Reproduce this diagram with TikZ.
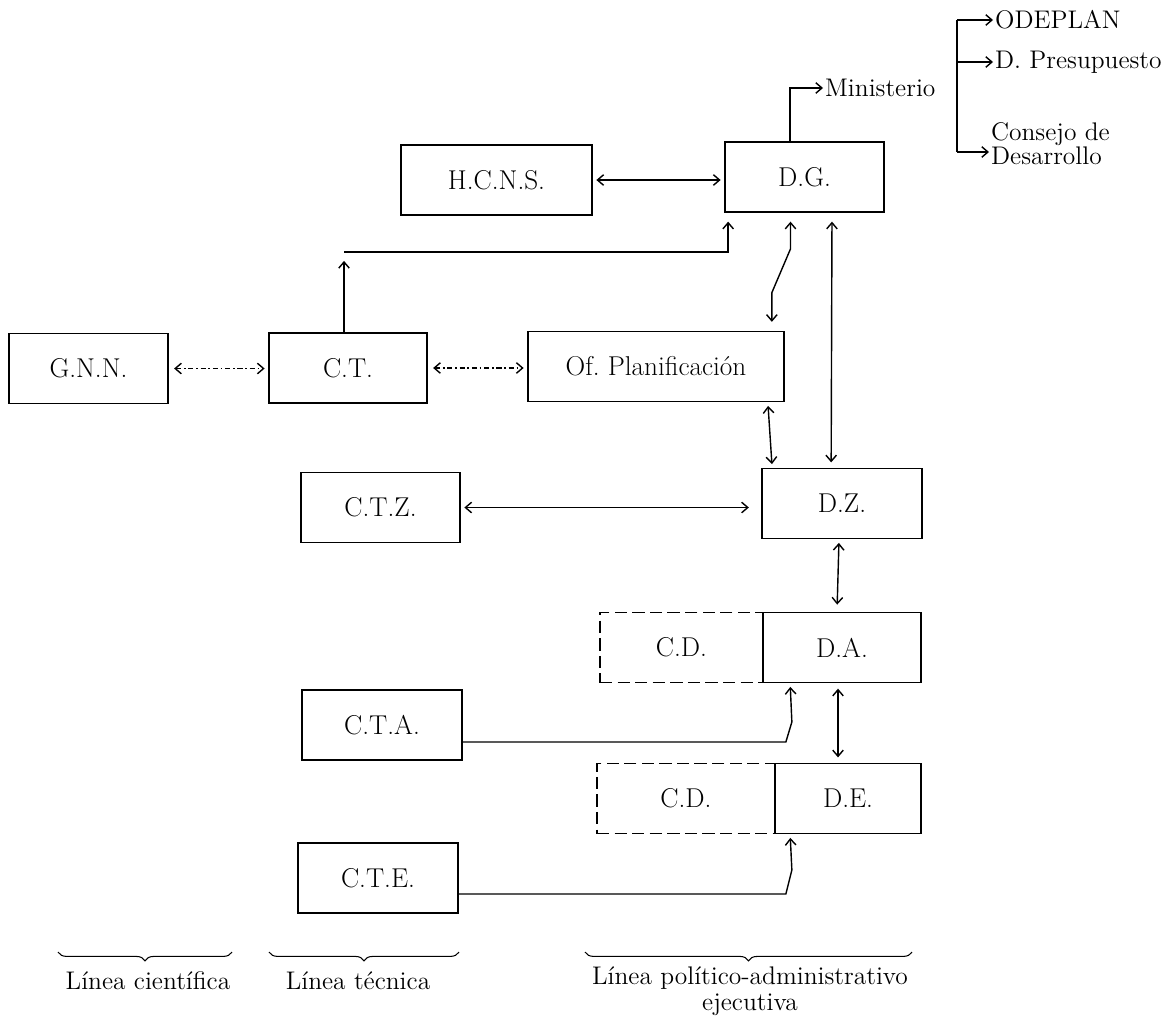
\documentclass[tikz,border=0pt]{standalone}
\usepackage{tikz}
\usetikzlibrary{calc,arrows.meta,decorations.pathreplacing}

\begin{document}
\begin{tikzpicture}[x=0.02cm,y=-0.02cm,>={Straight Barb[length=3.5pt,width=6pt]},
	font=\fontsize{15.5}{17}\selectfont,
	caja/.style={draw,line width=1pt,inner sep=0pt,minimum height=1.4cm},
	cajarayada/.style={caja,dash pattern=on 7pt off 3pt},
	etiqueta/.style={inner sep=1pt,font=\fontsize{14.5}{16}\selectfont},
	linea/.style={font=\fontsize{14.5}{15}\selectfont},
	flecha/.style={line width=0.8pt},
	rayado/.style={flecha,dash pattern=on 3pt off 1.5pt on 1pt off 1.5pt},
	llave/.style={decorate,decoration={brace,mirror,amplitude=5pt},line width=0.6pt}]
	\useasboundingbox (0,0) rectangle (1165,1015);
	%
	\node[caja,minimum width=3.82cm] (hcns) at (496.5,180) {H.C.N.S.};
	\node[caja,minimum width=3.18cm] (dg) at (804.5,177) {D.G.};
	\node[caja,minimum width=3.18cm] (gnn) at (88.5,368.5) {G.N.N.};
	\node[caja,minimum width=3.16cm] (ct) at (348,368) {C.T.};
	\node[caja,minimum width=5.12cm] (ofp) at (656,366.5) {Of.\ Planificación};
	\node[caja,minimum width=3.18cm] (ctz) at (380.5,507.5) {C.T.Z.};
	\node[caja,minimum width=3.2cm] (dz) at (842,503.5) {D.Z.};
	\node[cajarayada,minimum width=3.26cm] (cd1) at (681.5,647.5) {C.D.};
	\node[caja,minimum width=3.16cm] (da) at (842,647.5) {D.A.};
	\node[caja,minimum width=3.2cm] (cta) at (382,725) {C.T.A.};
	\node[cajarayada,minimum width=3.56cm] (cd2) at (686,798.5) {C.D.};
	\node[caja,minimum width=2.92cm] (de) at (848,798.5) {D.E.};
	\node[caja,minimum width=3.2cm] (cte) at (378,878) {C.T.E.};
	%
	\node[etiqueta,anchor=west] (min) at (823,88) {Ministerio};
	\coordinate (barra) at (957,18);
	\node[etiqueta,anchor=west] (odeplan) at (993,20) {ODEPLAN};
	\node[etiqueta,anchor=west] (dpres) at (993,62) {D.\ Presupuesto};
	\node[etiqueta,anchor=west,align=left,font=\fontsize{14.5}{13.5}\selectfont] (consejo) at (989,144) {Consejo de\\Desarrollo};
	%
	\draw[flecha,->] ($(dg.north)+(-14.5,0)$) |- (min.west);
	\draw[flecha] (odeplan.west -| barra) -- ($(consejo.west -| barra)+(0,8)$);
	\draw[flecha,->] (odeplan.west -| barra) -- (odeplan.west);
	\draw[flecha,->] (dpres.west -| barra) -- (dpres.west);
	\draw[flecha,->] ($(consejo.west -| barra)+(0,8)$) -- ($(consejo.west)+(0,8)$);
	%
	\draw[flecha,<->,shorten <=2pt,shorten >=2pt] (hcns.east) -- (hcns.east -| dg.west);
	\coordinate (codo) at ($(ct.north)+(-4,-80)$);
	\draw[flecha,->,shorten >=5pt] (ct.north -| codo) -- (codo);
	\draw[flecha,->,shorten >=5pt] (codo) -| ($(dg.south west)+(4,0)$);
	\draw[flecha,<->,shorten <=5pt,shorten >=5pt] ($(dg.south)+(-14,0)$) -- ++(0,36)
		-- ($(ofp.north east)+(-13,-38)$) -- ($(ofp.north east)+(-13,0)$);
	\draw[flecha,<->,shorten <=5pt,shorten >=3pt] ($(dg.south)+(27.5,0)$) -- ($(dz.north west)+(70,0)$);
	\draw[flecha,<->,shorten <=2pt,shorten >=2pt] ($(ofp.south east)+(-17,0)$) -- ($(dz.north west)+(11,0)$);
	\draw[rayado,<->,shorten <=3pt,shorten >=2pt] (gnn.east) -- (gnn.east -| ct.west);
	\draw[rayado,<->,shorten <=3pt,shorten >=2pt] (ct.east) -- (ct.east -| ofp.west);
	\draw[flecha,<->,shorten <=2pt,shorten >=7pt] (ctz.east) -- (ctz.east -| dz.west);
	\draw[flecha,<->,shorten <=2pt,shorten >=4pt] ($(dz.south)+(-3,0)$) -- ($(da.north)+(-5,0)$);
	\draw[flecha,<->,shorten <=3pt,shorten >=3pt] ($(da.south)+(-4,0)$) -- ($(de.north)+(-10,0)$);
	\draw[flecha,->,shorten >=2pt] ($(cta.east)+(0,17)$) -- ++(323,0) -- ++(6,-20) -- ($(da.south west)+(28,0)$);
	\draw[flecha,->,shorten >=2pt] ($(cte.east)+(0,16)$) -- ++(327,0) -- ++(6,-24) -- ($(de.south west)+(16,0)$);
	%
	\draw[llave] (58,952) -- (232,952);
	\draw[llave] (269,952) -- (459,952);
	\draw[llave] (585,952) -- (912,952);
	\node[linea] (lcien) at (148,981) {Línea científica};
	\node[linea] (ltec) at (358,981) {Línea técnica};
	\node[linea,align=center] (lpol) at (750,991) {Línea político-administrativo\\ejecutiva};
\end{tikzpicture}
\end{document}
